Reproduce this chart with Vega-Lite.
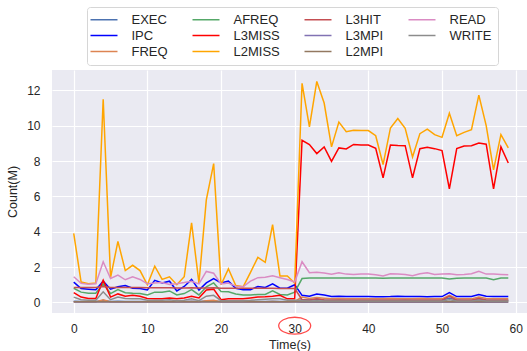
{
  "$schema": "https://vega.github.io/schema/vega-lite/v6.json",
  "autosize": "none",
  "width": 475,
  "height": 243,
  "padding": {"left": 52, "top": 70, "right": 0, "bottom": 38},
  "background": "white",
  "config": {
    "view": {"fill": "#EAEAF2", "stroke": null},
    "font": "Liberation Sans",
    "axis": {
      "domain": false, "ticks": false, "grid": true, "gridColor": "#FFFFFF", "gridWidth": 1.2,
      "labelFont": "Liberation Sans", "labelFontSize": 12, "labelColor": "#262626",
      "titleFont": "Liberation Sans", "titleFontSize": 12.5, "titleColor": "#262626", "titleFontWeight": "normal"
    }
  },
  "layer": [
    {
      "data": {"values": [
        {"t":0,"EXEC":0.06,"IPC":1.15,"FREQ":0.03,"AFREQ":0.8,"L3MISS":0.55,"L2MISS":3.9,"L3HIT":0.85,"L3MPI":0.02,"L2MPI":0.03,"READ":1.45,"WRITE":0.3},
        {"t":1,"EXEC":0.05,"IPC":0.78,"FREQ":0.03,"AFREQ":0.58,"L3MISS":0.3,"L2MISS":1.15,"L3HIT":0.85,"L3MPI":0.02,"L2MPI":0.03,"READ":1.08,"WRITE":0.15},
        {"t":2,"EXEC":0.05,"IPC":0.75,"FREQ":0.03,"AFREQ":0.52,"L3MISS":0.22,"L2MISS":1.05,"L3HIT":0.85,"L3MPI":0.02,"L2MPI":0.03,"READ":1.02,"WRITE":0.12},
        {"t":3,"EXEC":0.05,"IPC":0.72,"FREQ":0.03,"AFREQ":0.52,"L3MISS":0.22,"L2MISS":1.1,"L3HIT":0.85,"L3MPI":0.02,"L2MPI":0.03,"READ":1.05,"WRITE":0.12},
        {"t":4,"EXEC":0.1,"IPC":1.2,"FREQ":0.15,"AFREQ":1.05,"L3MISS":1.25,"L2MISS":11.5,"L3HIT":0.9,"L3MPI":0.02,"L2MPI":0.03,"READ":2.3,"WRITE":0.6},
        {"t":5,"EXEC":0.05,"IPC":0.75,"FREQ":0.03,"AFREQ":0.5,"L3MISS":0.3,"L2MISS":1.4,"L3HIT":0.85,"L3MPI":0.02,"L2MPI":0.03,"READ":1.35,"WRITE":0.15},
        {"t":6,"EXEC":0.06,"IPC":0.88,"FREQ":0.04,"AFREQ":0.72,"L3MISS":0.48,"L2MISS":3.45,"L3HIT":0.85,"L3MPI":0.02,"L2MPI":0.03,"READ":1.55,"WRITE":0.3},
        {"t":7,"EXEC":0.05,"IPC":0.95,"FREQ":0.03,"AFREQ":0.55,"L3MISS":0.35,"L2MISS":1.8,"L3HIT":0.84,"L3MPI":0.02,"L2MPI":0.03,"READ":1.28,"WRITE":0.22},
        {"t":8,"EXEC":0.05,"IPC":0.8,"FREQ":0.03,"AFREQ":0.52,"L3MISS":0.4,"L2MISS":2.1,"L3HIT":0.84,"L3MPI":0.02,"L2MPI":0.03,"READ":1.45,"WRITE":0.2},
        {"t":9,"EXEC":0.05,"IPC":0.78,"FREQ":0.03,"AFREQ":0.5,"L3MISS":0.35,"L2MISS":1.8,"L3HIT":0.84,"L3MPI":0.02,"L2MPI":0.03,"READ":1.3,"WRITE":0.2},
        {"t":10,"EXEC":0.05,"IPC":0.7,"FREQ":0.03,"AFREQ":0.42,"L3MISS":0.22,"L2MISS":1.0,"L3HIT":0.83,"L3MPI":0.02,"L2MPI":0.03,"READ":1.05,"WRITE":0.12},
        {"t":11,"EXEC":0.05,"IPC":1.25,"FREQ":0.03,"AFREQ":0.58,"L3MISS":0.2,"L2MISS":2.05,"L3HIT":0.83,"L3MPI":0.02,"L2MPI":0.03,"READ":1.1,"WRITE":0.12},
        {"t":12,"EXEC":0.05,"IPC":1.1,"FREQ":0.03,"AFREQ":0.58,"L3MISS":0.2,"L2MISS":1.3,"L3HIT":0.83,"L3MPI":0.02,"L2MPI":0.03,"READ":1.12,"WRITE":0.12},
        {"t":13,"EXEC":0.05,"IPC":1.2,"FREQ":0.03,"AFREQ":0.65,"L3MISS":0.25,"L2MISS":1.45,"L3HIT":0.83,"L3MPI":0.02,"L2MPI":0.03,"READ":1.02,"WRITE":0.15},
        {"t":14,"EXEC":0.05,"IPC":0.65,"FREQ":0.03,"AFREQ":0.42,"L3MISS":0.2,"L2MISS":1.0,"L3HIT":0.82,"L3MPI":0.02,"L2MPI":0.03,"READ":1.05,"WRITE":0.1},
        {"t":15,"EXEC":0.05,"IPC":0.9,"FREQ":0.03,"AFREQ":0.5,"L3MISS":0.25,"L2MISS":1.45,"L3HIT":0.82,"L3MPI":0.02,"L2MPI":0.03,"READ":1.12,"WRITE":0.12},
        {"t":16,"EXEC":0.06,"IPC":1.3,"FREQ":0.05,"AFREQ":0.72,"L3MISS":0.35,"L2MISS":4.5,"L3HIT":0.83,"L3MPI":0.02,"L2MPI":0.03,"READ":1.2,"WRITE":0.2},
        {"t":17,"EXEC":0.05,"IPC":0.7,"FREQ":0.03,"AFREQ":0.42,"L3MISS":0.25,"L2MISS":1.1,"L3HIT":0.82,"L3MPI":0.02,"L2MPI":0.03,"READ":1.05,"WRITE":0.1},
        {"t":18,"EXEC":0.08,"IPC":1.1,"FREQ":0.1,"AFREQ":0.88,"L3MISS":0.7,"L2MISS":5.8,"L3HIT":0.82,"L3MPI":0.02,"L2MPI":0.03,"READ":1.75,"WRITE":0.35},
        {"t":19,"EXEC":0.08,"IPC":1.35,"FREQ":0.12,"AFREQ":1.1,"L3MISS":0.75,"L2MISS":7.85,"L3HIT":0.83,"L3MPI":0.02,"L2MPI":0.03,"READ":1.65,"WRITE":0.4},
        {"t":20,"EXEC":0.05,"IPC":1.1,"FREQ":0.03,"AFREQ":0.62,"L3MISS":0.15,"L2MISS":1.0,"L3HIT":0.8,"L3MPI":0.02,"L2MPI":0.03,"READ":1.05,"WRITE":0.1},
        {"t":21,"EXEC":0.05,"IPC":1.2,"FREQ":0.03,"AFREQ":0.6,"L3MISS":0.2,"L2MISS":1.9,"L3HIT":0.8,"L3MPI":0.02,"L2MPI":0.03,"READ":1.1,"WRITE":0.1},
        {"t":22,"EXEC":0.05,"IPC":0.8,"FREQ":0.03,"AFREQ":0.48,"L3MISS":0.2,"L2MISS":0.95,"L3HIT":0.8,"L3MPI":0.02,"L2MPI":0.03,"READ":0.92,"WRITE":0.1},
        {"t":23,"EXEC":0.05,"IPC":0.72,"FREQ":0.03,"AFREQ":0.42,"L3MISS":0.2,"L2MISS":0.88,"L3HIT":0.8,"L3MPI":0.02,"L2MPI":0.03,"READ":0.88,"WRITE":0.1},
        {"t":24,"EXEC":0.05,"IPC":0.72,"FREQ":0.03,"AFREQ":0.42,"L3MISS":0.25,"L2MISS":1.7,"L3HIT":0.8,"L3MPI":0.02,"L2MPI":0.03,"READ":1.2,"WRITE":0.12},
        {"t":25,"EXEC":0.05,"IPC":0.9,"FREQ":0.03,"AFREQ":0.45,"L3MISS":0.3,"L2MISS":2.55,"L3HIT":0.8,"L3MPI":0.02,"L2MPI":0.03,"READ":1.4,"WRITE":0.15},
        {"t":26,"EXEC":0.05,"IPC":0.85,"FREQ":0.03,"AFREQ":0.45,"L3MISS":0.32,"L2MISS":2.27,"L3HIT":0.8,"L3MPI":0.02,"L2MPI":0.03,"READ":1.42,"WRITE":0.18},
        {"t":27,"EXEC":0.06,"IPC":1.05,"FREQ":0.05,"AFREQ":0.65,"L3MISS":0.35,"L2MISS":4.4,"L3HIT":0.8,"L3MPI":0.02,"L2MPI":0.03,"READ":1.5,"WRITE":0.2},
        {"t":28,"EXEC":0.05,"IPC":0.8,"FREQ":0.03,"AFREQ":0.45,"L3MISS":0.4,"L2MISS":1.5,"L3HIT":0.78,"L3MPI":0.02,"L2MPI":0.03,"READ":1.4,"WRITE":0.2},
        {"t":29,"EXEC":0.05,"IPC":0.8,"FREQ":0.03,"AFREQ":0.42,"L3MISS":0.2,"L2MISS":1.5,"L3HIT":0.78,"L3MPI":0.02,"L2MPI":0.03,"READ":1.3,"WRITE":0.12},
        {"t":30,"EXEC":0.06,"IPC":1.0,"FREQ":0.05,"AFREQ":0.58,"L3MISS":0.2,"L2MISS":1.1,"L3HIT":0.78,"L3MPI":0.02,"L2MPI":0.03,"READ":1.15,"WRITE":0.12},
        {"t":31,"EXEC":0.15,"IPC":0.4,"FREQ":0.3,"AFREQ":1.35,"L3MISS":9.17,"L2MISS":12.4,"L3HIT":0.15,"L3MPI":0.01,"L2MPI":0.03,"READ":2.3,"WRITE":0.1},
        {"t":32,"EXEC":0.14,"IPC":0.35,"FREQ":0.22,"AFREQ":1.38,"L3MISS":8.93,"L2MISS":9.93,"L3HIT":0.12,"L3MPI":0.01,"L2MPI":0.03,"READ":1.68,"WRITE":0.08},
        {"t":33,"EXEC":0.18,"IPC":0.48,"FREQ":0.28,"AFREQ":1.38,"L3MISS":8.42,"L2MISS":12.5,"L3HIT":0.2,"L3MPI":0.01,"L2MPI":0.03,"READ":1.7,"WRITE":0.1},
        {"t":34,"EXEC":0.14,"IPC":0.42,"FREQ":0.24,"AFREQ":1.38,"L3MISS":8.8,"L2MISS":11.28,"L3HIT":0.14,"L3MPI":0.01,"L2MPI":0.03,"READ":1.66,"WRITE":0.08},
        {"t":35,"EXEC":0.12,"IPC":0.34,"FREQ":0.2,"AFREQ":1.38,"L3MISS":7.98,"L2MISS":8.8,"L3HIT":0.12,"L3MPI":0.01,"L2MPI":0.03,"READ":1.6,"WRITE":0.08},
        {"t":36,"EXEC":0.13,"IPC":0.35,"FREQ":0.22,"AFREQ":1.38,"L3MISS":8.74,"L2MISS":10.2,"L3HIT":0.12,"L3MPI":0.01,"L2MPI":0.03,"READ":1.68,"WRITE":0.08},
        {"t":37,"EXEC":0.12,"IPC":0.33,"FREQ":0.2,"AFREQ":1.38,"L3MISS":8.68,"L2MISS":9.66,"L3HIT":0.12,"L3MPI":0.01,"L2MPI":0.03,"READ":1.6,"WRITE":0.08},
        {"t":38,"EXEC":0.12,"IPC":0.33,"FREQ":0.2,"AFREQ":1.38,"L3MISS":8.94,"L2MISS":9.74,"L3HIT":0.12,"L3MPI":0.01,"L2MPI":0.03,"READ":1.58,"WRITE":0.08},
        {"t":39,"EXEC":0.12,"IPC":0.33,"FREQ":0.2,"AFREQ":1.38,"L3MISS":8.9,"L2MISS":9.72,"L3HIT":0.12,"L3MPI":0.01,"L2MPI":0.03,"READ":1.6,"WRITE":0.08},
        {"t":40,"EXEC":0.12,"IPC":0.33,"FREQ":0.2,"AFREQ":1.38,"L3MISS":8.9,"L2MISS":9.72,"L3HIT":0.12,"L3MPI":0.01,"L2MPI":0.03,"READ":1.6,"WRITE":0.08},
        {"t":41,"EXEC":0.12,"IPC":0.32,"FREQ":0.2,"AFREQ":1.38,"L3MISS":8.72,"L2MISS":9.43,"L3HIT":0.12,"L3MPI":0.01,"L2MPI":0.03,"READ":1.56,"WRITE":0.08},
        {"t":42,"EXEC":0.12,"IPC":0.32,"FREQ":0.2,"AFREQ":1.37,"L3MISS":7.05,"L2MISS":7.8,"L3HIT":0.12,"L3MPI":0.01,"L2MPI":0.03,"READ":1.5,"WRITE":0.08},
        {"t":43,"EXEC":0.12,"IPC":0.33,"FREQ":0.22,"AFREQ":1.38,"L3MISS":8.9,"L2MISS":9.87,"L3HIT":0.12,"L3MPI":0.01,"L2MPI":0.03,"READ":1.62,"WRITE":0.08},
        {"t":44,"EXEC":0.12,"IPC":0.35,"FREQ":0.2,"AFREQ":1.38,"L3MISS":8.88,"L2MISS":10.4,"L3HIT":0.12,"L3MPI":0.01,"L2MPI":0.03,"READ":1.6,"WRITE":0.08},
        {"t":45,"EXEC":0.13,"IPC":0.34,"FREQ":0.2,"AFREQ":1.38,"L3MISS":8.87,"L2MISS":9.85,"L3HIT":0.12,"L3MPI":0.01,"L2MPI":0.03,"READ":1.58,"WRITE":0.08},
        {"t":46,"EXEC":0.12,"IPC":0.33,"FREQ":0.2,"AFREQ":1.38,"L3MISS":7.05,"L2MISS":8.23,"L3HIT":0.12,"L3MPI":0.01,"L2MPI":0.03,"READ":1.51,"WRITE":0.08},
        {"t":47,"EXEC":0.12,"IPC":0.33,"FREQ":0.22,"AFREQ":1.38,"L3MISS":8.7,"L2MISS":9.55,"L3HIT":0.12,"L3MPI":0.01,"L2MPI":0.03,"READ":1.62,"WRITE":0.08},
        {"t":48,"EXEC":0.12,"IPC":0.32,"FREQ":0.2,"AFREQ":1.38,"L3MISS":8.78,"L2MISS":9.8,"L3HIT":0.12,"L3MPI":0.01,"L2MPI":0.03,"READ":1.68,"WRITE":0.08},
        {"t":49,"EXEC":0.12,"IPC":0.33,"FREQ":0.2,"AFREQ":1.38,"L3MISS":8.7,"L2MISS":9.49,"L3HIT":0.12,"L3MPI":0.01,"L2MPI":0.03,"READ":1.58,"WRITE":0.08},
        {"t":50,"EXEC":0.12,"IPC":0.33,"FREQ":0.2,"AFREQ":1.38,"L3MISS":8.59,"L2MISS":9.34,"L3HIT":0.12,"L3MPI":0.01,"L2MPI":0.03,"READ":1.6,"WRITE":0.08},
        {"t":51,"EXEC":0.25,"IPC":0.55,"FREQ":0.4,"AFREQ":1.33,"L3MISS":6.42,"L2MISS":10.7,"L3HIT":0.35,"L3MPI":0.01,"L2MPI":0.03,"READ":1.62,"WRITE":0.15},
        {"t":52,"EXEC":0.13,"IPC":0.33,"FREQ":0.22,"AFREQ":1.37,"L3MISS":8.7,"L2MISS":9.43,"L3HIT":0.12,"L3MPI":0.01,"L2MPI":0.03,"READ":1.56,"WRITE":0.08},
        {"t":53,"EXEC":0.12,"IPC":0.33,"FREQ":0.2,"AFREQ":1.38,"L3MISS":8.85,"L2MISS":9.62,"L3HIT":0.12,"L3MPI":0.01,"L2MPI":0.03,"READ":1.58,"WRITE":0.08},
        {"t":54,"EXEC":0.12,"IPC":0.34,"FREQ":0.2,"AFREQ":1.38,"L3MISS":8.87,"L2MISS":9.77,"L3HIT":0.12,"L3MPI":0.01,"L2MPI":0.03,"READ":1.62,"WRITE":0.08},
        {"t":55,"EXEC":0.2,"IPC":0.45,"FREQ":0.3,"AFREQ":1.38,"L3MISS":9.02,"L2MISS":11.73,"L3HIT":0.22,"L3MPI":0.01,"L2MPI":0.03,"READ":1.76,"WRITE":0.12},
        {"t":56,"EXEC":0.13,"IPC":0.35,"FREQ":0.22,"AFREQ":1.38,"L3MISS":8.95,"L2MISS":10.0,"L3HIT":0.12,"L3MPI":0.01,"L2MPI":0.03,"READ":1.6,"WRITE":0.08},
        {"t":57,"EXEC":0.12,"IPC":0.33,"FREQ":0.2,"AFREQ":1.28,"L3MISS":6.42,"L2MISS":7.5,"L3HIT":0.12,"L3MPI":0.01,"L2MPI":0.03,"READ":1.6,"WRITE":0.08},
        {"t":58,"EXEC":0.12,"IPC":0.33,"FREQ":0.2,"AFREQ":1.38,"L3MISS":8.8,"L2MISS":9.49,"L3HIT":0.12,"L3MPI":0.01,"L2MPI":0.03,"READ":1.58,"WRITE":0.08},
        {"t":59,"EXEC":0.12,"IPC":0.33,"FREQ":0.2,"AFREQ":1.38,"L3MISS":7.89,"L2MISS":8.74,"L3HIT":0.12,"L3MPI":0.01,"L2MPI":0.03,"READ":1.56,"WRITE":0.08}
      ]},
      "transform": [{"fold": ["EXEC","IPC","FREQ","AFREQ","L3MISS","L2MISS","L3HIT","L3MPI","L2MPI","READ","WRITE"], "as": ["metric","value"]}],
      "mark": {"type": "line", "strokeWidth": 1.5, "clip": true},
      "encoding": {
        "x": {"field": "t", "type": "quantitative",
          "scale": {"domain": [-2.95, 61.54], "nice": false, "zero": false},
          "axis": {"values": [0,10,20,30,40,50,60], "title": "Time(s)", "labelPadding": 10, "titlePadding": 4}},
        "y": {"field": "value", "type": "quantitative",
          "scale": {"domain": [-0.6, 13.15], "nice": false, "zero": false},
          "axis": {"values": [0,2,4,6,8,10,12], "title": "Count(M)", "labelPadding": 12, "titlePadding": 7}},
        "color": {"field": "metric", "type": "nominal",
          "scale": {
            "domain": ["EXEC","IPC","FREQ","AFREQ","L3MISS","L2MISS","L3HIT","L3MPI","L2MPI","READ","WRITE"],
            "range": ["#4C72B0","#0000FF","#DD8452","#55A868","#FF0000","#FFA500","#C44E52","#8172B3","#937860","#DA8BC3","#8C8C8C"]
          },
          "legend": {
            "orient": "none", "legendX": 35, "legendY": -63, "columns": 4, "title": null,
            "symbolType": "M-2,0H4", "symbolSize": 81, "symbolStrokeWidth": 1.5,
            "labelFont": "Liberation Sans", "labelFontSize": 13, "labelColor": "#262626", "labelOffset": 25.5,
            "columnPadding": 21, "rowPadding": 2, "padding": 6,
            "fillColor": "#FFFFFF", "strokeColor": "#D6D6D6", "cornerRadius": 3
          }
        }
      }
    },
    {
      "data": {"values": [{"t": 30, "v": -1.32}]},
      "mark": {"type": "point", "shape": "M-1,0A1,0.53 0 1,0 1,0A1,0.53 0 1,0 -1,0", "size": 1024, "filled": false, "stroke": "#FF0000", "strokeWidth": 1.3, "clip": false},
      "encoding": {
        "x": {"field": "t", "type": "quantitative"},
        "y": {"field": "v", "type": "quantitative"}
      }
    }
  ]
}
